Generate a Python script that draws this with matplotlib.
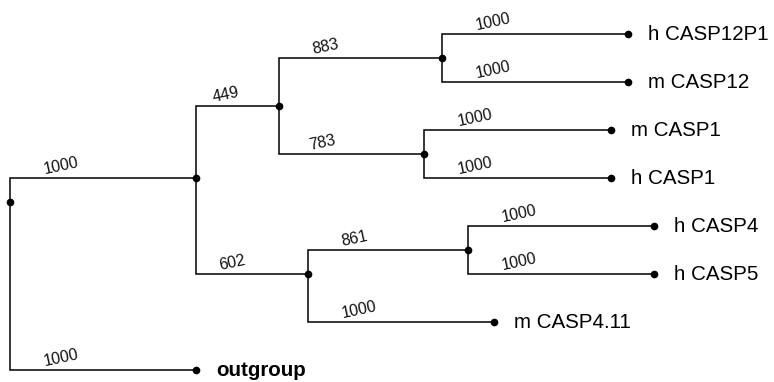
import matplotlib
matplotlib.use("Agg")
import matplotlib.pyplot as plt
from matplotlib.transforms import offset_copy

# Tree data
leaves = ["h CASP12P1", "m CASP12", "m CASP1", "h CASP1",
          "h CASP4", "h CASP5", "m CASP4.11", "outgroup"]
parents = ["root", "root", "A", "A", "B", "B", "C", "C", "D", "D",
           "E", "E", "F", "F"]
children = ["A", "outgroup", "B", "E", "C", "D", "h CASP12P1", "m CASP12",
            "m CASP1", "h CASP1", "F", "m CASP4.11", "h CASP4", "h CASP5"]
branch_lengths = [186, 186, 83, 112, 163, 145, 186, 186, 187, 187,
                  160, 186, 186, 186]
supports = [1000, 1000, 449, 602, 883, 783, 1000, 1000, 1000, 1000,
            861, 1000, 1000, 1000]

# layout
kids = {}
for p, c, l, s in zip(parents, children, branch_lengths, supports):
    kids.setdefault(p, []).append((c, l, s))

xpos = {"root": 0.0}
def set_x(n):
    for c, l, s in kids.get(n, []):
        xpos[c] = xpos[n] + l
        set_x(c)
set_x("root")

def leaf_list(n):
    if n not in kids:
        return [n]
    out = []
    for c, _, _ in kids[n]:
        out += leaf_list(c)
    return out

ypos = {}
for n in xpos:
    lv = leaf_list(n)
    ypos[n] = sum(leaves.index(x) for x in lv) / len(lv)

fig = plt.figure(figsize=(7.74, 3.82), dpi=100)
ax = fig.add_axes([0, 0, 1, 1])
ax.set_xlim(-10, 764)
ax.set_ylim(7 + 12 / 48, -34 / 48)
ax.axis("off")

for p, c, l, s in zip(parents, children, branch_lengths, supports):
    px, py = xpos[p], ypos[p]
    cx, cy = xpos[c], ypos[c]
    ax.plot([px, px, cx], [py, cy, cy], color="black", lw=1.1,
            solid_joinstyle="miter", solid_capstyle="butt", zorder=1)
    lx = px + min(35, 0.22 * l)
    tr = offset_copy(ax.transData, fig=fig, x=0, y=1.5, units="dots")
    ax.text(lx, cy, str(s), transform=tr, rotation=12, rotation_mode="anchor",
            ha="left", va="bottom", fontsize=11.5, family="Liberation Sans",
            color="#111111")

for n in xpos:
    ax.plot(xpos[n], ypos[n], "o", color="black", ms=4.5, zorder=3)

for i, name in enumerate(leaves):
    tr = offset_copy(ax.transData, fig=fig, x=20, y=0, units="dots")
    ax.text(xpos[name], ypos[name], name, transform=tr, ha="left",
            va="center", fontsize=14.8, family="Liberation Sans",
            fontweight="bold" if name == "outgroup" else "normal",
            color="black")

fig.savefig("out.png", dpi=100)
